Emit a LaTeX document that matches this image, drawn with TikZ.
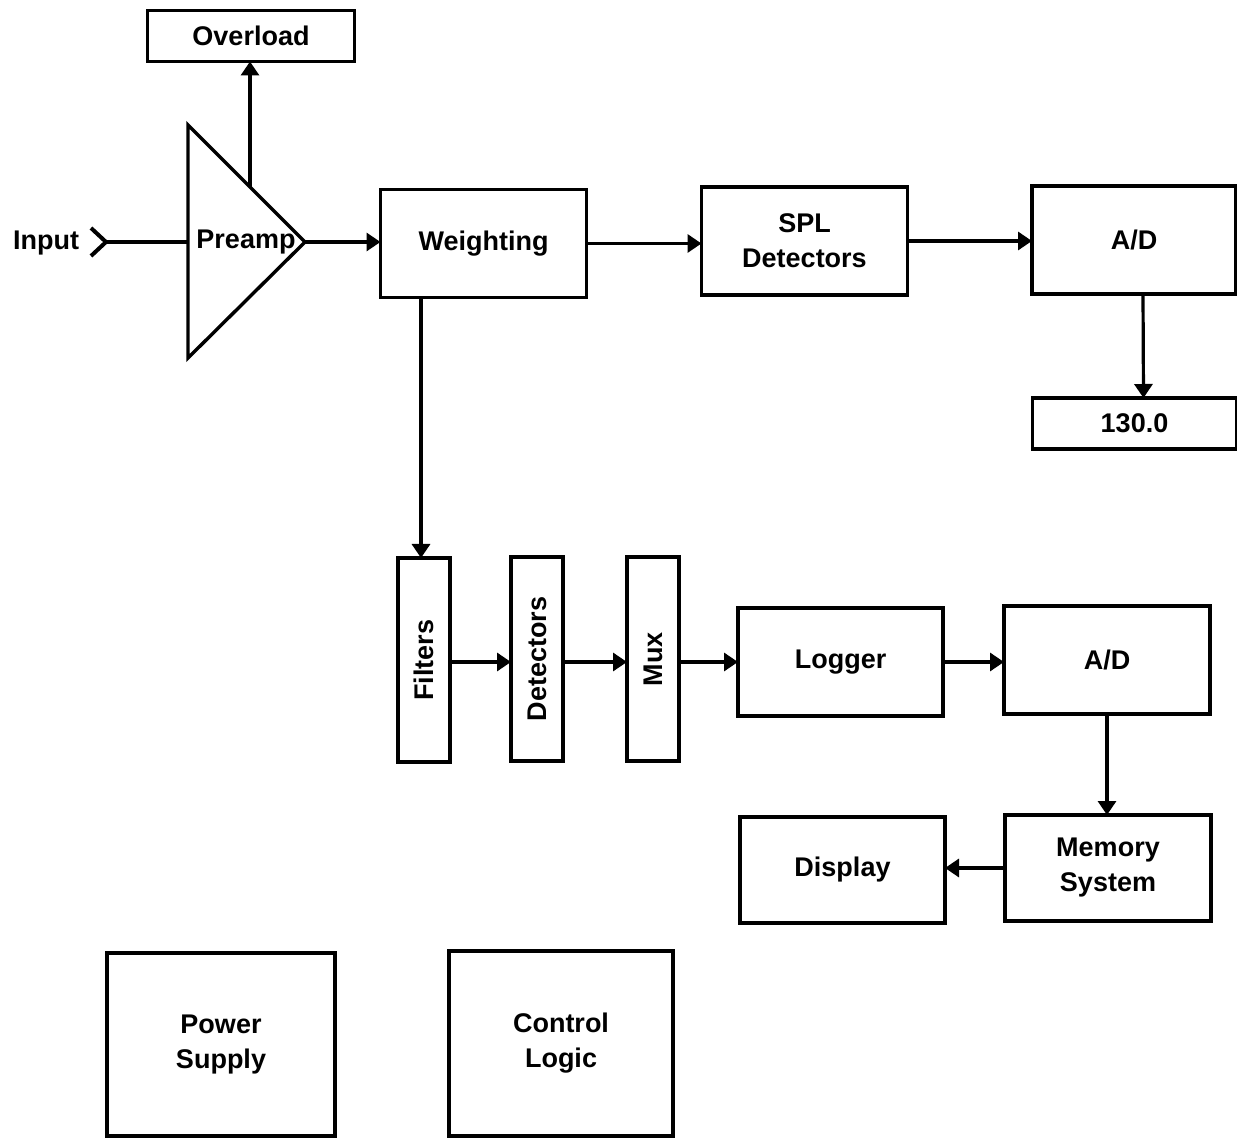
\documentclass[tikz,border=0pt]{standalone}
\usepackage{fontspec}
\setmainfont{Liberation Sans}
\usepackage{tikz}
\usetikzlibrary{arrows.meta,positioning}
\tikzset{
  lbl/.style={font=\bfseries\fontsize{13.5}{17.5}\selectfont, align=center},
  block/.style={lbl, draw, line width=1.7pt, inner sep=0pt, outer sep=0pt},
  wide/.style={block, minimum width=103pt, minimum height=54pt},
  tall/.style={block, minimum width=26pt, minimum height=102pt},
  readout/.style={block, minimum width=102pt, minimum height=25.5pt},
  flow/.style={-{Triangle[length=7pt,width=9pt]}, line width=1.6pt},
  wire/.style={line width=1.6pt},
}

\begin{document}
\begin{tikzpicture}[x=0.5pt, y=-0.5pt]
  \useasboundingbox (0,0) rectangle (1237,1138);
  % front end
  \node[lbl] (input) at (46,243) {Input};
  \coordinate (in-tip) at (106,242);
  \coordinate (pa-top) at (188,125);
  \coordinate (pa-bot) at (188,358);
  \coordinate (pa-out) at (305,242);
  \coordinate (pa-ovl) at (250,187);
  \draw[line width=1.7pt] (pa-top) -- (pa-out) -- (pa-bot) -- cycle;
  \node[lbl] (preamp) at (246,242) {Preamp};
  \draw[wire, line width=2pt] (in-tip) ++(-15,-14) -- (in-tip) -- ++(-15,14);
  \draw[wire] (in-tip) -- (pa-top |- in-tip);
  \node[readout, minimum width=103.5pt] (overload) at (251,36) {Overload};
  \draw[flow] (pa-ovl) -- (pa-ovl |- overload.south);
  % SPL path
  \node[wide] (weight) at (483.5,243.5) {Weighting};
  \node[wide] (spl) at (804.5,241) {SPL\\Detectors};
  \node[wide, minimum width=102pt] (ad1) at (1134,240) {A/D};
  \node[readout] (level) at (1134.5,423.5) {130.0};
  \draw[flow] (pa-out) -- (pa-out -| weight.west);
  \draw[flow] (weight.east) -- (weight.east -| spl.west);
  \draw[flow] (spl.east) -- (spl.east -| ad1.west);
  \draw[flow] ([xshift=4.5pt]ad1.south) -- ([xshift=4.5pt]level.north);
  % band path
  \node[tall] (filt) at (424,660) {\rotatebox{90}{Filters}};
  \node[tall] (det) at (537,659) {\rotatebox{90}{Detectors}};
  \node[tall] (mux) at (653,659) {\rotatebox{90}{Mux}};
  \node[wide, minimum width=102.5pt] (logger) at (840.5,662) {Logger};
  \node[wide] (ad2) at (1107,660) {A/D};
  \node[wide, minimum height=53pt] (mem) at (1108,868) {Memory\\System};
  \node[wide, minimum width=102.5pt, minimum height=53pt] (disp) at (842.5,870) {Display};
  \draw[flow] ([xshift=-1.5pt]filt.north |- weight.south) -- ([xshift=-1.5pt]filt.north);
  \draw[flow] (filt.east |- logger.west) -- (det.west |- logger.west);
  \draw[flow] (det.east |- logger.west) -- (mux.west |- logger.west);
  \draw[flow] (mux.east |- logger.west) -- (logger.west);
  \draw[flow] (logger.east) -- (logger.east -| ad2.west);
  \draw[flow] (ad2.south) -- (ad2.south |- mem.north);
  \draw[flow] (mem.west) -- (mem.west -| disp.east);
  % support blocks
  \node[block, minimum width=114pt, minimum height=91.5pt] (power) at (221,1044.5) {Power\\Supply};
  \node[block, minimum width=112pt, minimum height=92.5pt] (ctrl) at (561,1043.5) {Control\\Logic};
\end{tikzpicture}
\end{document}
